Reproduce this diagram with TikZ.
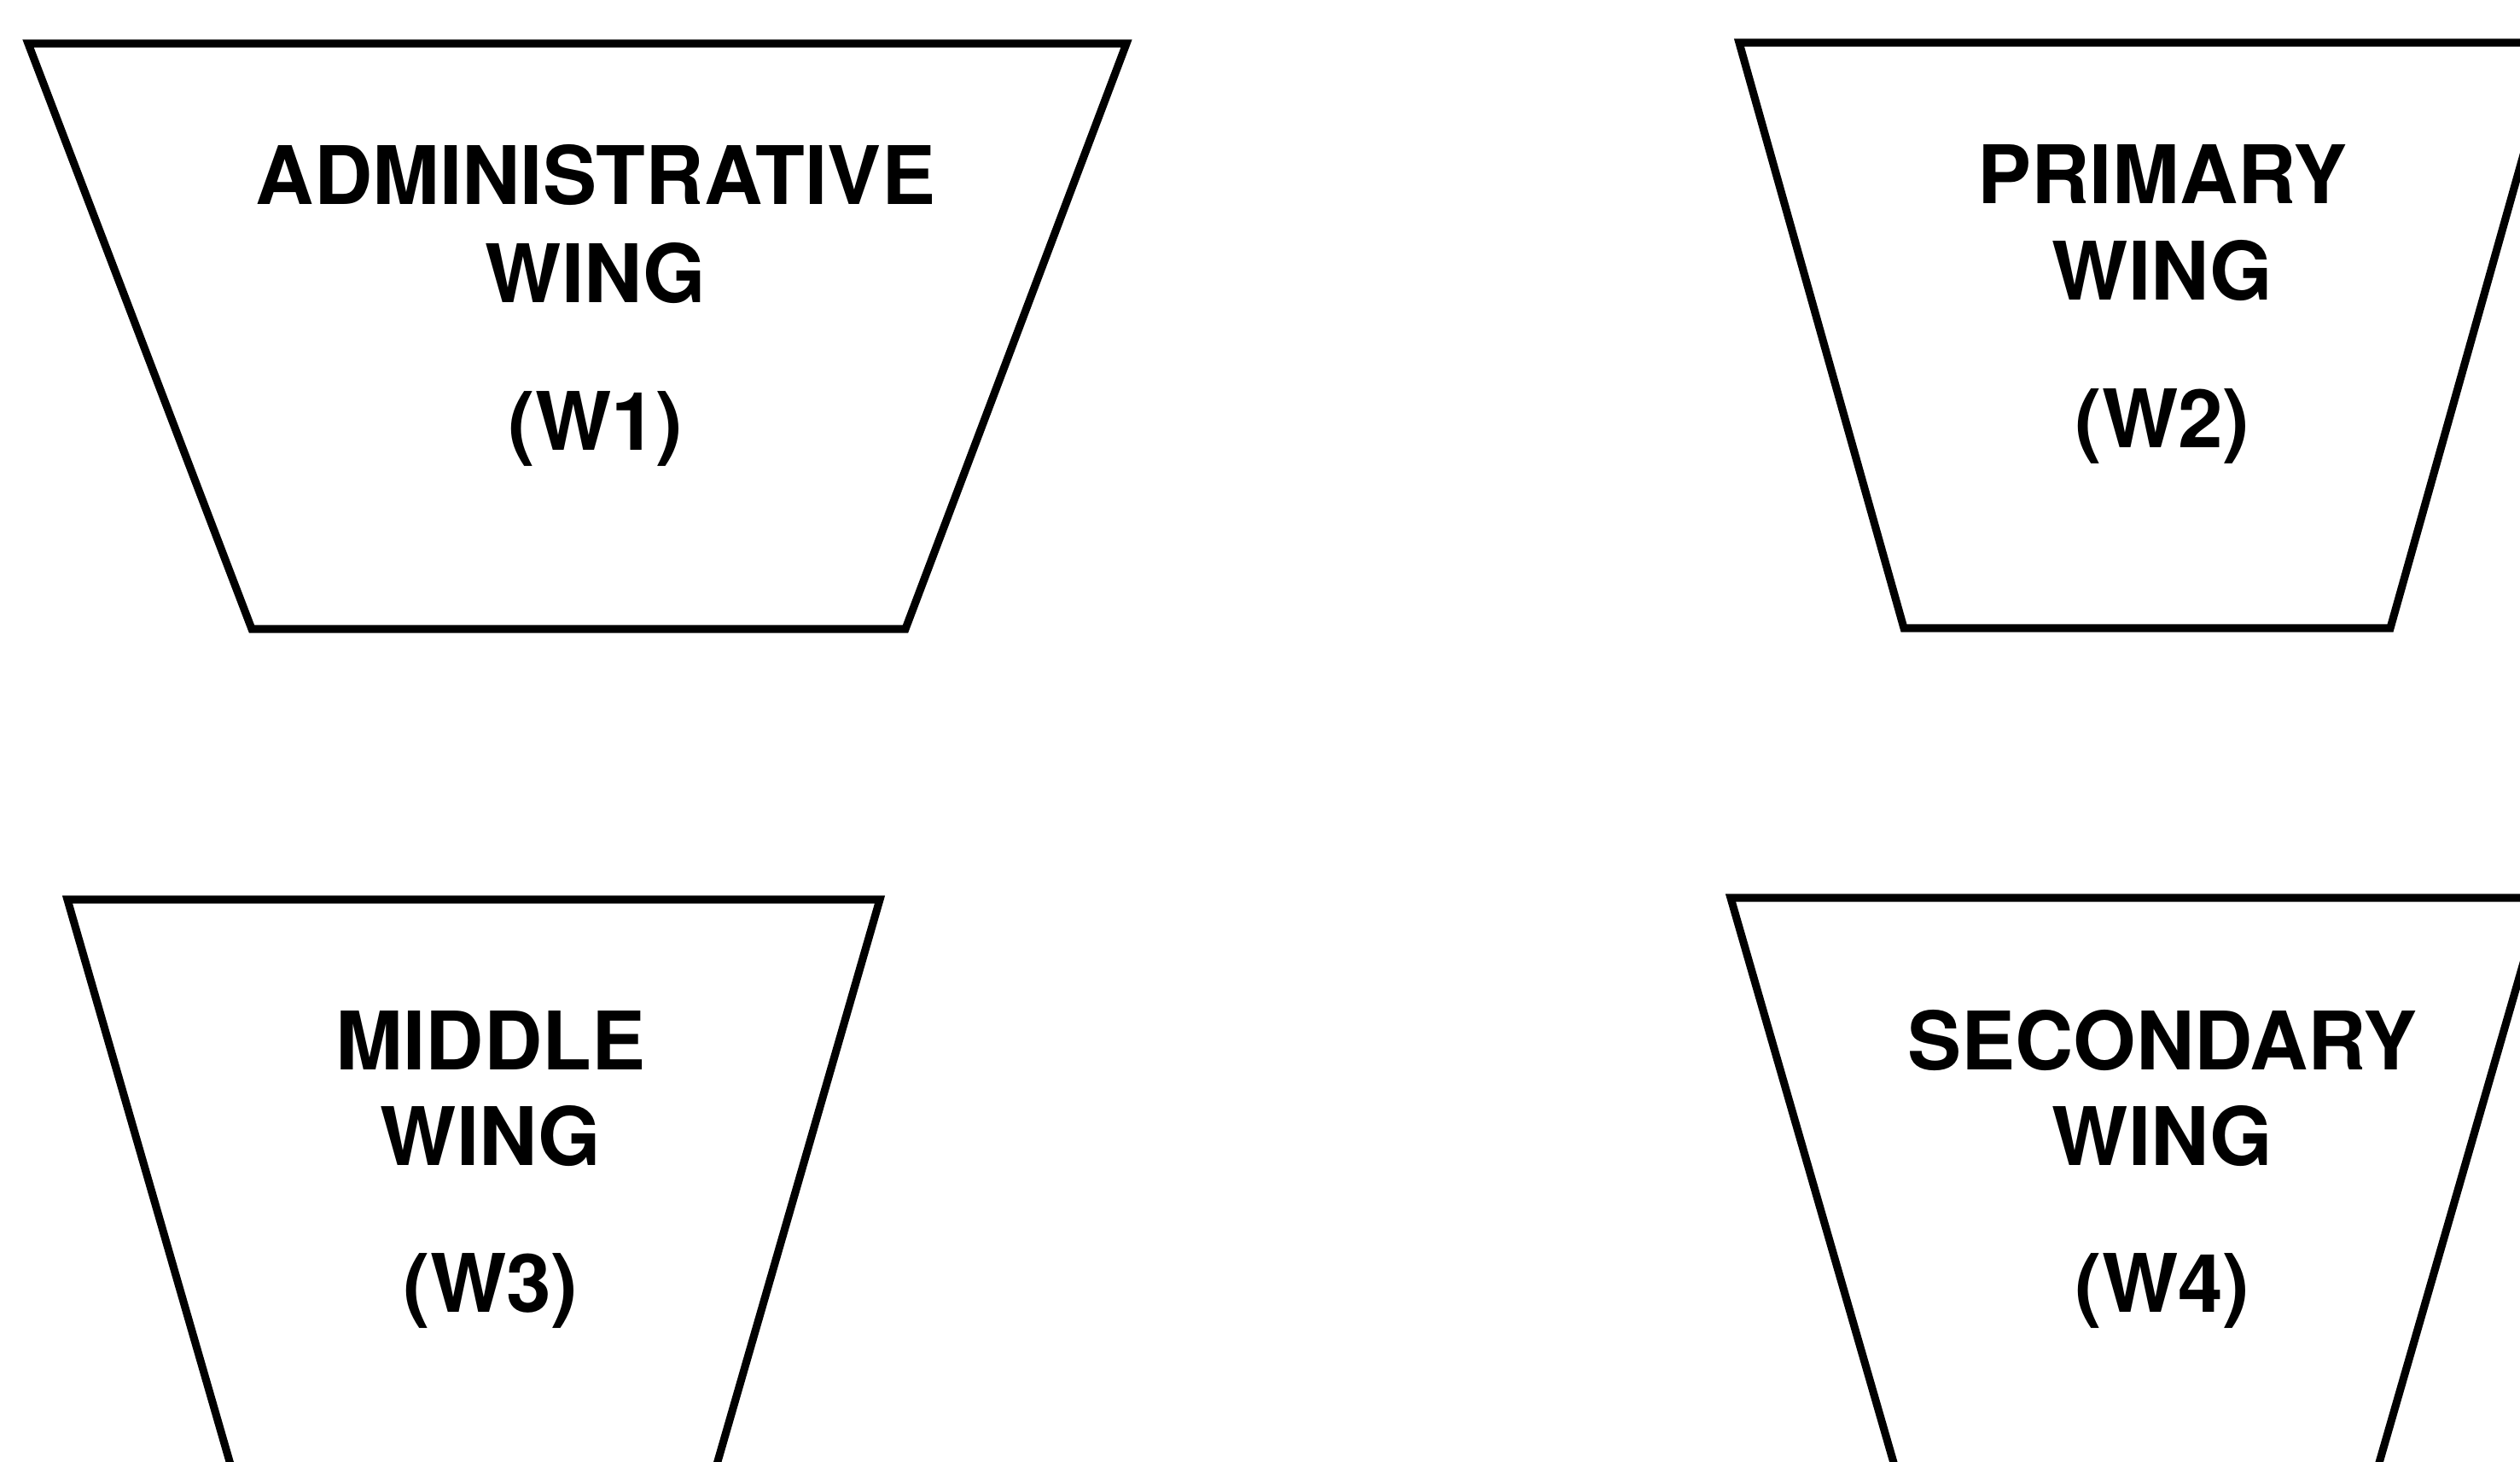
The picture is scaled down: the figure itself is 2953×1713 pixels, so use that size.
\documentclass[tikz,border=0pt]{standalone}
\usepackage{fontspec}
\setmainfont{TeX Gyre Heros}
\begin{document}
\begin{tikzpicture}[x=0.01cm,y=-0.01cm,
  wing/.style={draw=black,line width=2.6pt,line join=miter,fill=white},
  lbl/.style={anchor=base,inner sep=0pt,font=\fontsize{26.9}{30}\selectfont\bfseries}]
\useasboundingbox (0,0) rectangle (2953,1713);
\clip (0,0) rectangle (2953,1713);
\fill[white] (0,0) rectangle (2953,1713);
% trapezoids
\draw[wing] (33,51) -- (1320,51) -- (1061,737) -- (295,737) -- cycle;
\draw[wing] (2038,50) -- (2994,50) -- (2801,736) -- (2231,736) -- cycle;
\draw[wing] (79,1054) -- (1031,1054) -- (833,1740) -- (277,1740) -- cycle;
\draw[wing] (2028,1052) -- (2979,1052) -- (2781,1738) -- (2226,1738) -- cycle;
% labels
\node[lbl] (w1a) at (698,240) {ADMINISTRATIVE};
\node[lbl] (w1b) at (698,355) {WING};
\node[lbl] (w1c) at (698,528) {(W1)};
\node[lbl] (w2a) at (2534,239) {PRIMARY};
\node[lbl] (w2b) at (2534,352) {WING};
\node[lbl] (w2c) at (2534,525) {(W2)};
\node[lbl] (w3a) at (575,1254) {MIDDLE};
\node[lbl] (w3b) at (575,1366) {WING};
\node[lbl] (w3c) at (575,1538) {(W3)};
\node[lbl] (w4a) at (2534,1254) {SECONDARY};
\node[lbl] (w4b) at (2534,1366) {WING};
\node[lbl] (w4c) at (2534,1538) {(W4)};
\end{tikzpicture}
\end{document}
